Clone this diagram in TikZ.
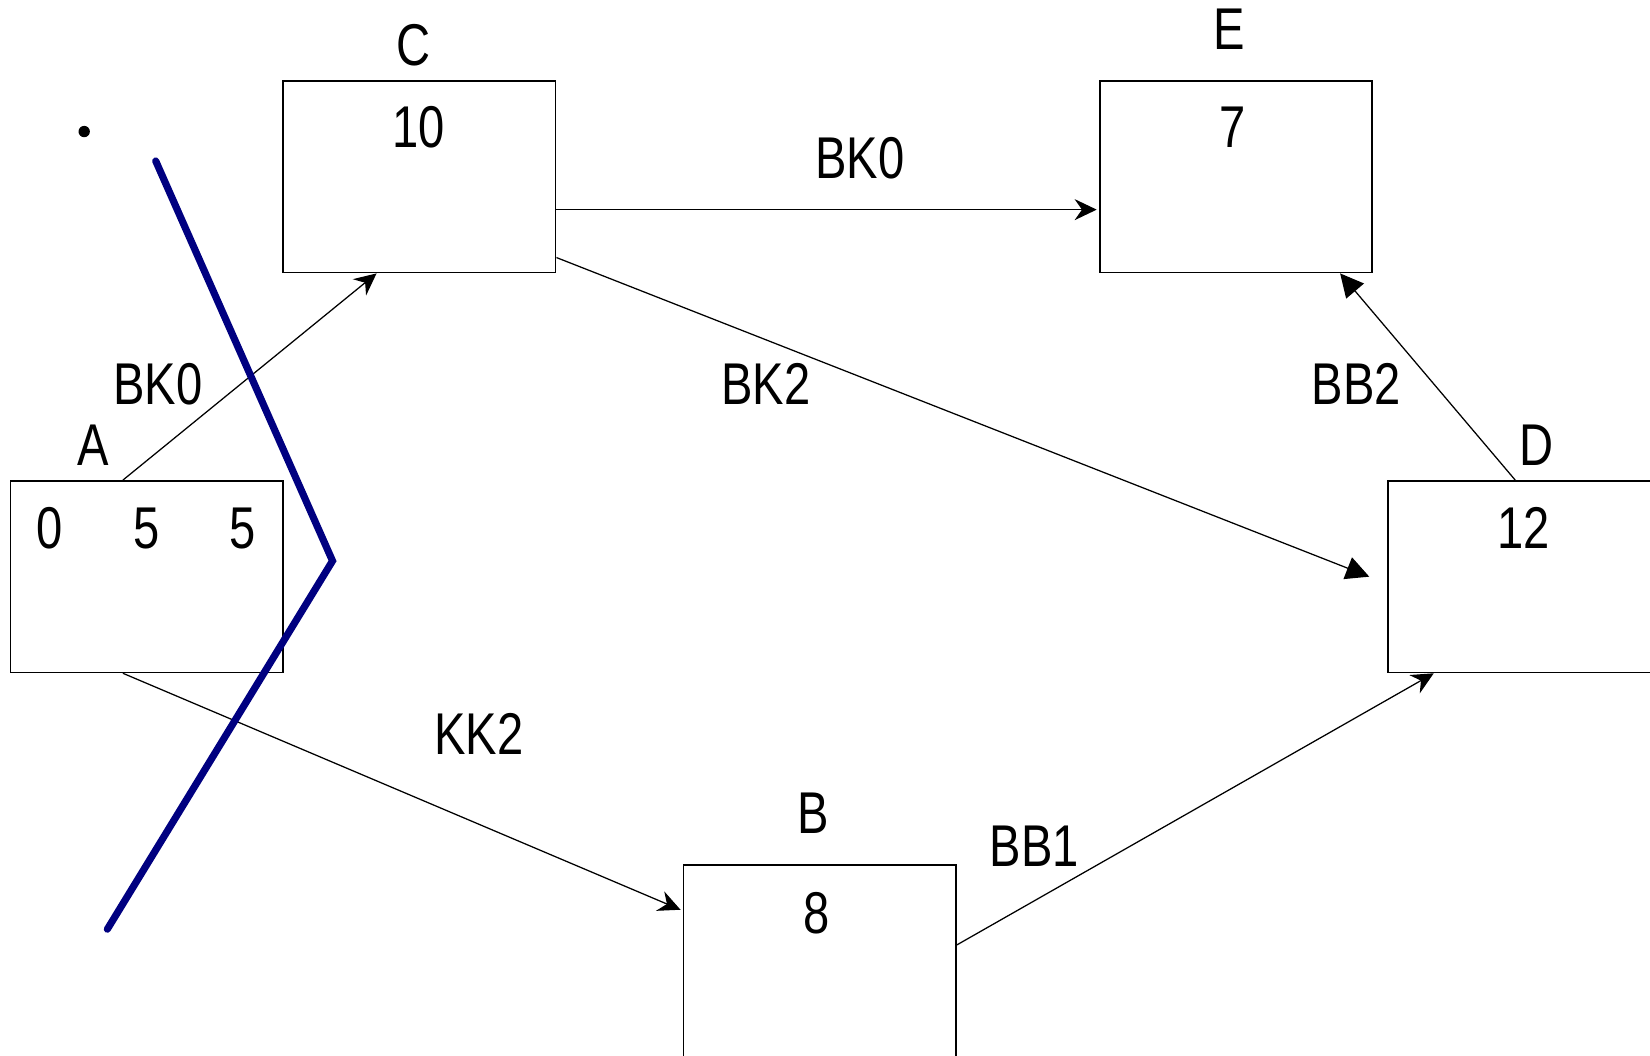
\documentclass[tikz,border=0pt]{standalone}
\usepackage{fontspec}
\setmainfont{Liberation Sans}[FakeStretch=0.8]
\usetikzlibrary{arrows.meta,calc}
\definecolor{cutblue}{RGB}{0,0,128}
\begin{document}
\begin{tikzpicture}[x=0.5pt,y=-0.5pt,
  every node/.style={font=\fontsize{28}{34}\selectfont, inner sep=0pt},
  box/.style={draw, line width=0.8pt, minimum width=129.5pt, minimum height=91pt, inner sep=0pt},
  lbl/.style={},
  openarr/.style={draw, line width=0.6pt, -{Stealth[length=10.5pt,width=10pt,inset=3.5pt]}},
  fillarr/.style={draw, line width=0.6pt, -{Triangle[length=11pt,width=11pt]}},
  cut/.style={draw=cutblue, line width=3.4pt, line cap=round, line join=miter}
]
\clip (0,0) rectangle (1568,1003);
\path[use as bounding box] (0,0) rectangle (1568,1003);

% boxes
\node[box] (C) at (398.5,168) {};
\node[box] (E) at (1174.5,168) {};
\node[box] (A) at (139.5,548) {};
\node[box] (D) at (1448.5,548) {};
\node[box] (B) at (779,913) {};

% box titles
\node[lbl] (Ct) at (393,43) {C};
\node[lbl] (Et) at (1168,28) {E};
\node[lbl] (At) at (89,423) {A};
\node[lbl] (Dt) at (1460,423) {D};
\node[lbl] (Bt) at (773,773) {B};

% values
\node[lbl] (Cv) at (398,121) {10};
\node[lbl] (Ev) at (1171,121) {7};
\node[lbl] (Av1) at (47,502) {0};
\node[lbl] (Av2) at (139,502) {5};
\node[lbl] (Av3) at (231,502) {5};
\node[lbl] (Dv) at (1448,502) {12};
\node[lbl] (Bv) at (776,868) {8};

% connector end points on the boxes
\coordinate (AN) at ($(A.north west)!0.413!(A.north east)$);
\coordinate (AS) at ($(A.south west)!0.413!(A.south east)$);
\coordinate (CS) at ($(C.south west)!0.344!(C.south east)$);
\coordinate (CE1) at ($(C.north east)!0.670!(C.south east)$);
\coordinate (CE2) at ($(C.north east)!0.918!(C.south east)$);
\coordinate (EW) at ([xshift=-1pt]$(E.north west)!0.670!(E.south west)$);
\coordinate (ES) at ($(E.south west)!0.880!(E.south east)$);
\coordinate (DW) at ([xshift=-8.5pt]D.west);
\coordinate (DN) at ($(D.north west)!0.467!(D.north east)$);
\coordinate (DS) at ($(D.south west)!0.170!(D.south east)$);
\coordinate (BW) at ([xshift=-1pt]$(B.north west)!0.236!(B.south west)$);
\coordinate (BE) at ($(B.north east)!0.418!(B.south east)$);

% connectors
\draw[openarr] (AN) -- (CS);
\draw[openarr] (CE1) -- (EW);
\draw[fillarr] (CE2) -- (DW);
\draw[fillarr] (DN) -- (ES);
\draw[openarr] (AS) -- (BW);
\draw[openarr] (BE) -- (DS);

% connector labels
\node[lbl] (l1) at (150,365) {BK0};
\node[lbl] (l2) at (817,150) {BK0};
\node[lbl] (l3) at (728,365) {BK2};
\node[lbl] (l4) at (1289,365) {BB2};
\node[lbl] (l5) at (455,697) {KK2};
\node[lbl] (l6) at (983,804) {BB1};

% dot
\fill (80,125) circle (2.7pt);

% cut line
\coordinate (cut1) at (148,153);
\coordinate (cut2) at (316,533);
\coordinate (cut3) at (102,883);
\draw[cut] (cut1) -- (cut2) -- (cut3);
\end{tikzpicture}
\end{document}
